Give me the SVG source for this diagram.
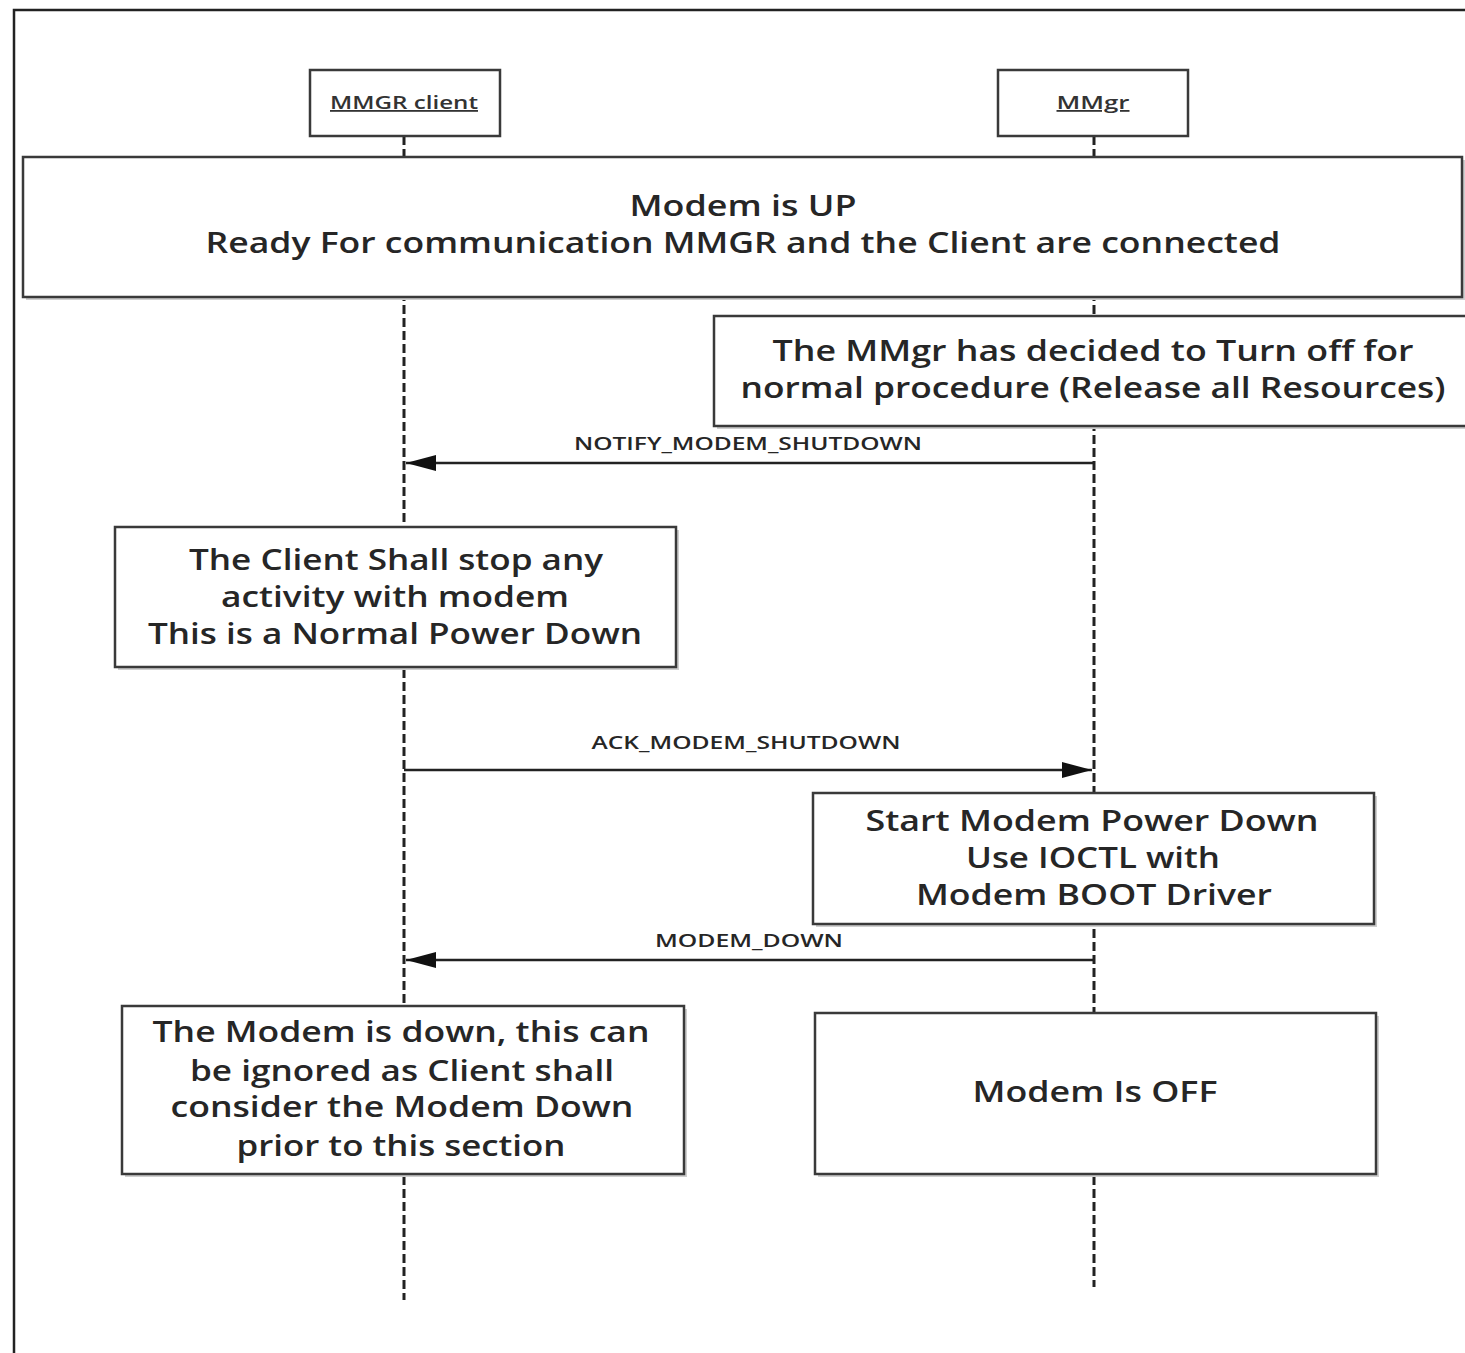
<svg xmlns="http://www.w3.org/2000/svg" width="1465" height="1353" viewBox="0 0 1465 1353">
  <style>
    .frame { fill: none; stroke: #222; stroke-width: 2.5; }
    .box { fill: #fff; stroke: #3a3a3a; stroke-width: 2.5; }
    .shadow { fill: #cfcfcf; }
    .life { stroke: #222; stroke-width: 3; stroke-dasharray: 9 4; fill: none; }
    .msg { stroke: #222; stroke-width: 2.5; fill: none; }
    .t { font-family: "Open Sans", "Liberation Sans", sans-serif; font-size: 29px; font-weight: 600; fill: #262626; text-anchor: middle; }
    .h { font-family: "Open Sans", "Liberation Sans", sans-serif; font-size: 18px; font-weight: 600; fill: #333; text-anchor: middle; text-decoration: underline; }
    .m { font-family: "Open Sans", "Liberation Sans", sans-serif; font-size: 18px; font-weight: 600; fill: #262626; text-anchor: middle; }
  </style>
  <defs>
    <marker id="head" viewBox="0 0 30 16" refX="30" refY="8" markerWidth="30" markerHeight="16" markerUnits="userSpaceOnUse" orient="auto">
      <path d="M0,0 L30,8 L0,16 Z" fill="#111"/>
    </marker>
  </defs>

  <rect x="0" y="0" width="1465" height="1353" fill="#fff"/>
  <path class="frame" d="M14,1353 V10 H1465"/>

  <!-- lifelines -->
  <g id="lifelines">
    <line class="life" x1="404" y1="136" x2="404" y2="1300"/>
    <line class="life" x1="1094" y1="136" x2="1094" y2="1287"/>
  </g>

  <g id="client">
    <rect class="box" x="310" y="70" width="190" height="66"/>
    <text class="h" x="404" y="109" textLength="148" lengthAdjust="spacingAndGlyphs">MMGR client</text>
  </g>
  <g id="mmgr">
    <rect class="box" x="998" y="70" width="190" height="66"/>
    <text class="h" x="1093" y="109" textLength="73" lengthAdjust="spacingAndGlyphs">MMgr</text>
  </g>

  <g id="modem-up">
    <rect class="shadow" x="26" y="160" width="1439" height="140"/>
    <rect class="box" x="23" y="157" width="1439" height="140"/>
    <text class="t" x="743" y="216" textLength="227" lengthAdjust="spacingAndGlyphs">Modem is UP</text>
    <text class="t" x="743" y="253" textLength="1075" lengthAdjust="spacingAndGlyphs">Ready For communication MMGR and the Client are connected</text>
  </g>

  <g id="mmgr-decides">
    <rect class="shadow" x="717" y="319" width="760" height="110"/>
    <rect class="box" x="714" y="316" width="760" height="110"/>
    <text class="t" x="1093" y="361" textLength="641" lengthAdjust="spacingAndGlyphs">The MMgr has decided to Turn off for</text>
    <text class="t" x="1093" y="398" textLength="705" lengthAdjust="spacingAndGlyphs">normal procedure (Release all Resources)</text>
  </g>

  <g id="client-stops">
    <rect class="shadow" x="118" y="530" width="561" height="140"/>
    <rect class="box" x="115" y="527" width="561" height="140"/>
    <text class="t" x="396" y="570" textLength="414" lengthAdjust="spacingAndGlyphs">The Client Shall stop any</text>
    <text class="t" x="395" y="607" textLength="348" lengthAdjust="spacingAndGlyphs">activity with modem</text>
    <text class="t" x="395" y="644" textLength="494" lengthAdjust="spacingAndGlyphs">This is a Normal Power Down</text>
  </g>

  <g id="power-down">
    <rect class="shadow" x="816" y="796" width="561" height="131"/>
    <rect class="box" x="813" y="793" width="561" height="131"/>
    <text class="t" x="1092" y="831" textLength="453" lengthAdjust="spacingAndGlyphs">Start Modem Power Down</text>
    <text class="t" x="1093" y="868" textLength="254" lengthAdjust="spacingAndGlyphs">Use IOCTL with</text>
    <text class="t" x="1094" y="905" textLength="356" lengthAdjust="spacingAndGlyphs">Modem BOOT Driver</text>
  </g>

  <g id="client-ignores">
    <rect class="shadow" x="125" y="1009" width="562" height="168"/>
    <rect class="box" x="122" y="1006" width="562" height="168"/>
    <text class="t" x="401" y="1042" textLength="497" lengthAdjust="spacingAndGlyphs">The Modem is down, this can</text>
    <text class="t" x="402" y="1081" textLength="424" lengthAdjust="spacingAndGlyphs">be ignored as Client shall</text>
    <text class="t" x="402" y="1117" textLength="463" lengthAdjust="spacingAndGlyphs">consider the Modem Down</text>
    <text class="t" x="401" y="1156" textLength="329" lengthAdjust="spacingAndGlyphs">prior to this section</text>
  </g>

  <g id="modem-off">
    <rect class="shadow" x="818" y="1016" width="561" height="161"/>
    <rect class="box" x="815" y="1013" width="561" height="161"/>
    <text class="t" x="1095" y="1102" textLength="245" lengthAdjust="spacingAndGlyphs">Modem Is OFF</text>
  </g>

  <!-- messages -->
  <g id="connectors">
    <line class="msg" x1="1094" y1="463" x2="406" y2="463" marker-end="url(#head)"/>
    <text class="m" x="748" y="450" textLength="348" lengthAdjust="spacingAndGlyphs">NOTIFY_MODEM_SHUTDOWN</text>
    <line class="msg" x1="404" y1="770" x2="1092" y2="770" marker-end="url(#head)"/>
    <text class="m" x="746" y="749" textLength="309" lengthAdjust="spacingAndGlyphs">ACK_MODEM_SHUTDOWN</text>
    <line class="msg" x1="1094" y1="960" x2="406" y2="960" marker-end="url(#head)"/>
    <text class="m" x="749" y="947" textLength="188" lengthAdjust="spacingAndGlyphs">MODEM_DOWN</text>
  </g>
</svg>
